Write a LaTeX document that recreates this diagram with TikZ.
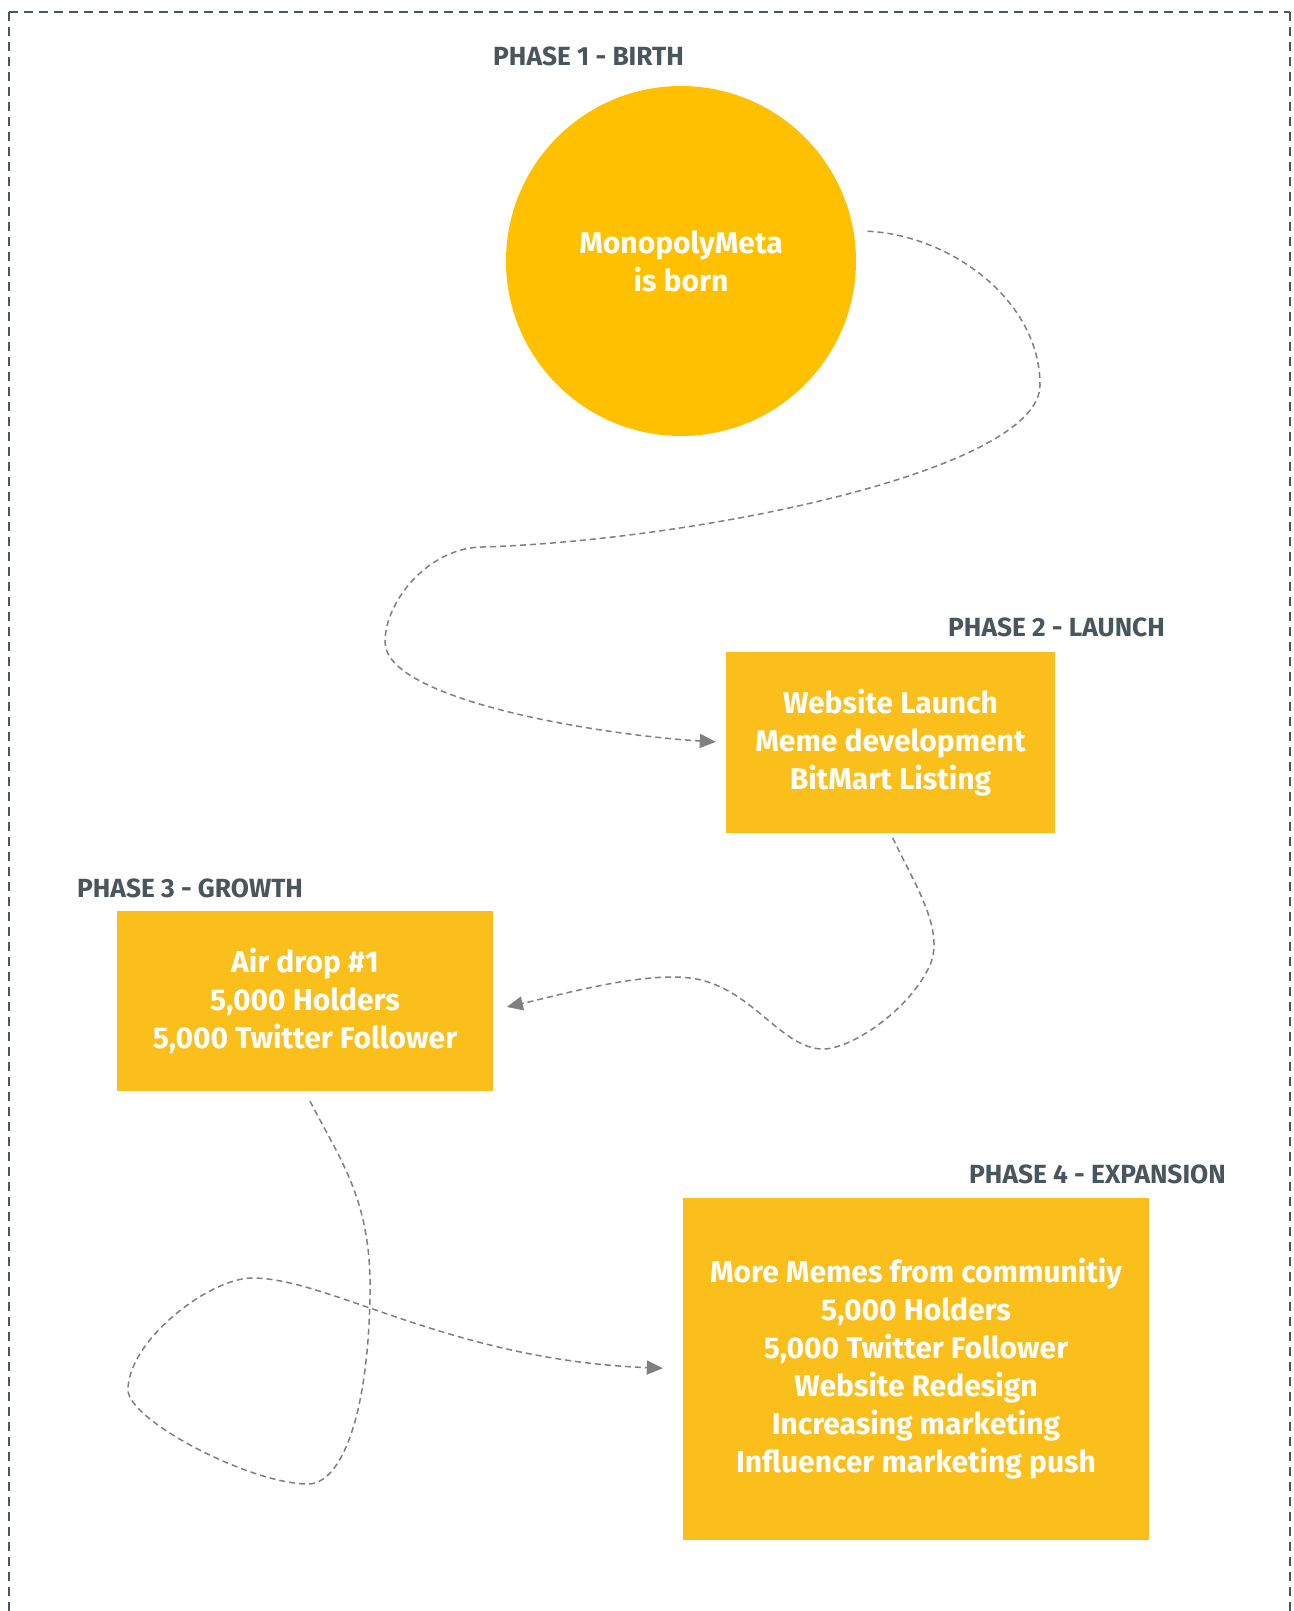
\documentclass[tikz,border=0pt]{standalone}
\usepackage{fontspec}
\setmainfont{Fira Sans}
\usetikzlibrary{arrows.meta,calc}
\definecolor{circc}{HTML}{FFC000}
\definecolor{boxc}{HTML}{FABF1B}
\definecolor{labc}{HTML}{4A555C}
\definecolor{connc}{HTML}{808080}
\begin{document}
\begin{tikzpicture}[x=1pt,y=-1pt,
  box/.style={fill=boxc, draw=none, text=white, font=\fontsize{30}{38}\selectfont\bfseries, align=center, inner sep=0pt},
  phase/.style={text=labc, font=\fontsize{26.3}{29}\selectfont\bfseries, anchor=west, inner sep=0pt},
  conn/.style={draw=connc, line width=1.5pt, dash pattern=on 6pt off 4pt, -{Triangle[length=16pt,width=14pt]}},
  frame/.style={draw=labc, line width=2.2pt, dash pattern=on 9pt off 6pt}
]
\useasboundingbox (0,0) rectangle (1293,1611);
\fill[white] (0,0) rectangle (1293,1611);
\draw[frame] (9,12) -- (1290,12);
\draw[frame] (9,12) -- (9,1640);
\draw[frame] (1290,12) -- (1290,1640);

\node[circle, fill=circc, minimum size=350pt, inner sep=0pt, text=white, font=\fontsize{30}{38}\selectfont\bfseries, align=center] (c) at (681,261) {MonopolyMeta\\is born};
\node[box, minimum width=329pt, minimum height=181pt] (b2) at (890.5,742.5) {Website Launch\\Meme development\\BitMart Listing};
\node[box, minimum width=376pt, minimum height=180pt] (b3) at (305,1001) {Air drop \#1\\5,000 Holders\\5,000 Twitter Follower};
\node[box, minimum width=466pt, minimum height=342pt] (b4) at (916,1369) {More Memes from communitiy\\5,000 Holders\\5,000 Twitter Follower\\Website Redesign\\Increasing marketing\\Influencer marketing push};

\node[phase] (p1) at (493,56.5) {PHASE 1 - BIRTH};
\node[phase] (p2) at (948,627) {PHASE 2 - LAUNCH};
\node[phase] (p3) at (77,888) {PHASE 3 - GROWTH};
\node[phase] (p4) at (969,1174) {PHASE 4 - EXPANSION};

\coordinate (b3in) at ($(b3.east)+(0,9)$);
\draw[conn, shorten <=14pt, shorten >=10pt] (c.10) .. controls (950,235) and (1040,300) .. (1040,385) .. controls (1040,470) and (700,540) .. (483,547) .. controls (430,547) and (385,600) .. (385,642) .. controls (385,700) and (600,735) .. (b2.west);
\draw[conn, shorten <=5pt, shorten >=14pt] (b2.south) .. controls (915,885) and (945,930) .. (930,965) .. controls (910,1010) and (850,1050) .. (822,1049) .. controls (780,1048) and (750,985) .. (690,978) .. controls (640,972) and (560,995) .. (b3in);
\draw[conn, shorten <=11pt, shorten >=20pt] (b3.south) .. controls (340,1160) and (372,1200) .. (370,1295) .. controls (368,1420) and (340,1484) .. (308,1484) .. controls (250,1484) and (128,1420) .. (128,1390) .. controls (128,1340) and (210,1278) .. (252,1278) .. controls (330,1278) and (450,1360) .. (b4.west);
\end{tikzpicture}
\end{document}
